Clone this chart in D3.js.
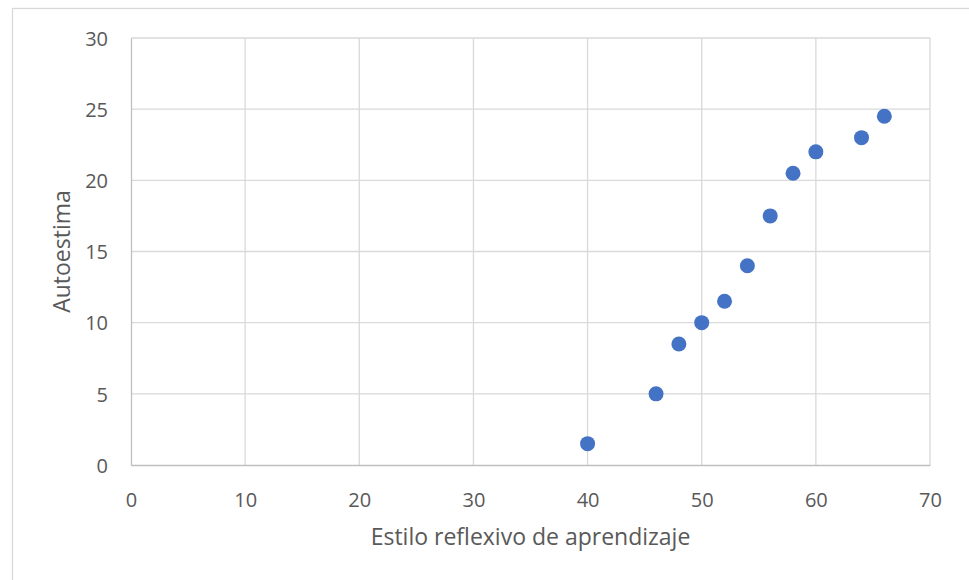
<!DOCTYPE html>
<html>
<head>
<meta charset="utf-8">
<script src="https://cdn.jsdelivr.net/npm/d3@7"></script>
<style>
  body { margin: 0; background: #fff; }
  svg { display: block; }
  text { font-family: "Open Sans", "Liberation Sans", sans-serif; fill: #595959; }
</style>
</head>
<body>
<svg width="969" height="580"></svg>
<script>
// data
let xValues = [40, 46, 48, 50, 52, 54, 56, 58, 60, 64, 66];
let yValues = [1.5, 5, 8.5, 10, 11.5, 14, 17.5, 20.5, 22, 23, 24.5];
let xTicks = [0, 10, 20, 30, 40, 50, 60, 70];
let yTicks = [0, 5, 10, 15, 20, 25, 30];
let xTitle = "Estilo reflexivo de aprendizaje";
let yTitle = "Autoestima";

function render() {
  let svg = d3.select("svg");
  let width = 969;
  let height = 580;

  let plot = {left: 131, right: 930, top: 38, bottom: 465};

  // outer chart border
  svg.append("rect")
    .attr("x", 12.5)
    .attr("y", 8.5)
    .attr("width", width)
    .attr("height", height)
    .attr("fill", "none")
    .attr("stroke", "#d9d9d9")
    .attr("stroke-width", 1.3);

  let xScale = d3.scaleLinear()
    .domain([0, 70])
    .range([plot.left, plot.right]);
  let yScale = d3.scaleLinear()
    .domain([0, 30])
    .range([plot.bottom, plot.top]);

  let gGrid = svg.append("g").attr("class", "grid");
  gGrid.selectAll(".vline")
    .data(xTicks.slice(1))
    .enter()
    .append("line")
    .attr("x1", d => xScale(d))
    .attr("x2", d => xScale(d))
    .attr("y1", plot.top)
    .attr("y2", plot.bottom)
    .attr("stroke", "#d9d9d9")
    .attr("stroke-width", 1.3);
  gGrid.selectAll(".hline")
    .data(yTicks.slice(1))
    .enter()
    .append("line")
    .attr("x1", plot.left)
    .attr("x2", plot.right)
    .attr("y1", d => yScale(d))
    .attr("y2", d => yScale(d))
    .attr("stroke", "#d9d9d9")
    .attr("stroke-width", 1.3);

  let xAxis = d3.axisBottom(xScale)
    .tickValues(xTicks)
    .tickSize(0);
  let yAxis = d3.axisLeft(yScale)
    .tickValues(yTicks)
    .tickSize(0);

  let gX = svg.append("g")
    .attr("transform", `translate(0, ${plot.bottom})`)
    .call(xAxis);
  let gY = svg.append("g")
    .attr("transform", `translate(${plot.left}, 0)`)
    .call(yAxis);

  [gX, gY].forEach(g => {
    g.select(".domain").attr("stroke", "#bfbfbf").attr("stroke-width", 1.3);
    g.selectAll(".tick text")
      .attr("fill", "#595959")
      .style("font-size", "20px");
  });
  gX.selectAll(".tick text").attr("y", 42).attr("dy", 0);
  gY.selectAll(".tick text").attr("x", -23).attr("dy", "0.36em");

  svg.append("g").selectAll("circle")
    .data(xValues)
    .enter()
    .append("circle")
    .attr("cx", d => xScale(d))
    .attr("cy", (_, i) => yScale(yValues[i]))
    .attr("r", 7.5)
    .attr("fill", "#4472c4");

  svg.append("text")
    .attr("transform", `translate(${(plot.left + plot.right) / 2}, 545)`)
    .attr("text-anchor", "middle")
    .style("font-size", "23px")
    .text(xTitle);

  svg.append("text")
    .attr("transform", `translate(63.5, ${(plot.top + plot.bottom) / 2}) rotate(-90)`)
    .attr("text-anchor", "middle")
    .attr("dominant-baseline", "middle")
    .style("font-size", "23px")
    .text(yTitle);
}

render();
</script>
</body>
</html>
